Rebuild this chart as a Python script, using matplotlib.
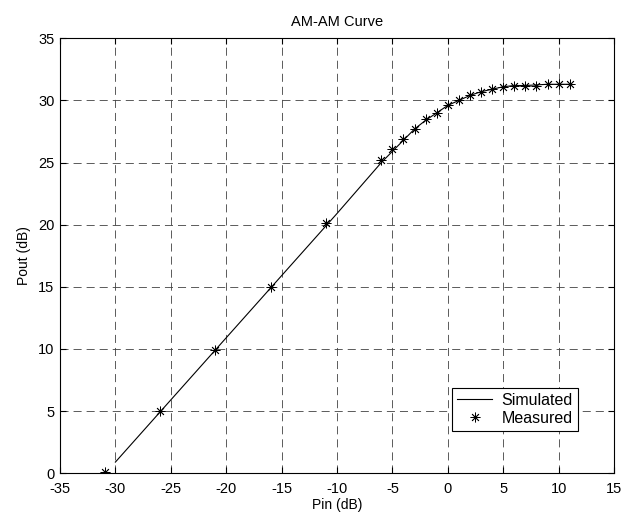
import numpy as np
import matplotlib
matplotlib.use('Agg')
import matplotlib.pyplot as plt

plt.rcParams['font.family'] = ['Liberation Sans', 'DejaVu Sans']
plt.rcParams['font.size'] = 10.5
plt.rcParams['axes.unicode_minus'] = False
plt.rcParams['lines.scale_dashes'] = False

# Simulated AM-AM curve
sim_pin = [-30, -25, -20, -15, -10, -6, -5, -4, -3, -2, -1, 0, 1, 2, 3, 4, 5, 6, 7, 8, 9, 10, 11]
sim_pout = [0.9, 5.9, 10.9, 15.9, 20.9, 25.0, 25.9, 26.8, 27.7, 28.4, 29.0, 29.6, 30.0,
            30.4, 30.7, 30.9, 31.1, 31.2, 31.2, 31.25, 31.3, 31.3, 31.3]

# Measured points
meas_pin = [-30.9, -26, -21, -16, -11, -6, -5, -4, -3, -2, -1, 0, 1, 2, 3, 4, 5, 6, 7, 8, 9, 10, 11]
meas_pout = [0.1, 5.0, 9.9, 15.0, 20.1, 25.2, 26.1, 26.9, 27.7, 28.5, 29.0, 29.6, 30.0,
             30.4, 30.7, 30.9, 31.1, 31.2, 31.2, 31.2, 31.3, 31.3, 31.3]

xticks = np.arange(-35, 16, 5)
yticks = np.arange(0, 36, 5)

fig = plt.figure(figsize=(6.32, 5.21), dpi=100)
ax = fig.add_axes([0.0949, 0.0916, 0.8766, 0.8349])

ax.plot(sim_pin, sim_pout, color='k', lw=0.8, label='Simulated')
ax.plot(meas_pin, meas_pout, ls='none', marker=(8, 2, 0), ms=7, mec='k', mew=0.6,
        color='k', label='Measured')

ax.set_xlim(-35, 15)
ax.set_ylim(0, 35)
ax.set_xticks(xticks)
ax.set_yticks(yticks)
ax.grid(True, color='0.25', lw=0.6, linestyle=(0, (5.8, 3.6)))
ax.tick_params(direction='in', top=True, right=True, length=4, width=0.8)
ax.tick_params(axis='x', pad=6)
ax.tick_params(axis='y', pad=4)
for s in ax.spines.values():
    s.set_linewidth(0.8)

ax.set_title('AM-AM Curve', fontsize=10.5, pad=9)
ax.set_xlabel('Pin (dB)', fontsize=10, labelpad=1.5)
ax.set_ylabel('Pout (dB)', fontsize=10, labelpad=5)

leg = ax.legend(loc='upper left', bbox_to_anchor=(0.708, 0.196), fancybox=False,
                edgecolor='k', framealpha=1, handlelength=2.2, handletextpad=0.6,
                borderpad=0.3, labelspacing=0.2, borderaxespad=0, fontsize=11.5)
leg.get_frame().set_linewidth(0.8)

fig.savefig('out.png', dpi=100)
